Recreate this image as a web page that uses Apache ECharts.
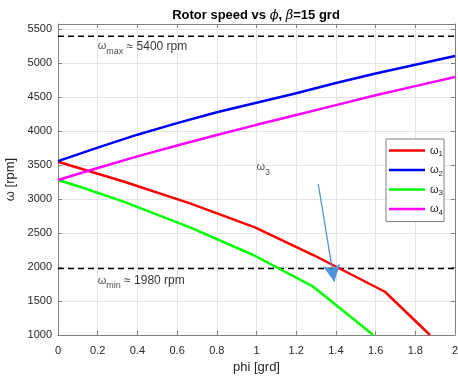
<!DOCTYPE html>
<html>
<head>
<meta charset="utf-8">
<script src="https://cdn.jsdelivr.net/npm/echarts@6/dist/echarts.min.js"></script>
<style>
html,body{margin:0;padding:0;background:#fff;}
#c{width:458px;height:379px;}
</style>
</head>
<body>
<div id="c"></div>
<script>
// ---- data ----
const phi1 = [0, 0.33, 0.665, 0.992, 1.286, 1.647, 1.874];
const w1   = [3552, 3260, 2939, 2586, 2178, 1637, 1000];

const phi2 = [0, 0.2, 0.4, 0.6, 0.8, 1.0, 1.2, 1.4, 1.6, 1.8, 2.0];
const w2   = [3560, 3760, 3950, 4120, 4280, 4420, 4560, 4710, 4850, 4980, 5110];

const phi3 = [0, 0.11, 0.33, 0.665, 0.984, 1.286, 1.588];
const w3   = [3283, 3184, 2965, 2586, 2178, 1711, 1000];

const phi4 = [0, 0.2, 0.4, 0.6, 0.8, 1.0, 1.2, 1.4, 1.6, 1.8, 2.0];
const w4   = [3283, 3460, 3630, 3790, 3945, 4095, 4240, 4385, 4530, 4665, 4800];

const limitPhi = [0, 2];
const wMax = [5400, 5400];
const wMin = [1980, 1980];

const xTicks = [0, 2, 0.2];          // min, max, interval
const yTicks = [1000, 5580, 500];    // min, max, interval

const seriesNames = ['ω1', 'ω2', 'ω3', 'ω4'];
const seriesColors = ['#ff0000', '#0000ff', '#00ff00', '#ff00ff'];

// annotations: [phi, w, subscript, rest]
const notes = [
  [0.2, 5250, 'max', ' ≈ 5400 rpm'],
  [0.2, 1800, 'min', ' ≈ 1980 rpm'],
  [1.0, 3470, '3', '']
];
const arrowFrom = [1.311, 3224];
const arrowTo   = [1.392, 1785];

// ---- chart ----
const zip = (xs, ys) => xs.map((x, i) => [x, ys[i]]);
const FONT = '"Liberation Sans", Arial, Helvetica, sans-serif';
const AX = '#808080';
const TXT = '#262626';

const chart = echarts.init(document.getElementById('c'), null, {renderer: 'canvas'});

const curveData = [zip(phi1, w1), zip(phi2, w2), zip(phi3, w3), zip(phi4, w4)];
const curves = curveData.map((d, i) => ({
  name: seriesNames[i],
  type: 'line',
  data: d,
  symbol: 'none',
  showSymbol: false,
  color: seriesColors[i],
  lineStyle: {color: seriesColors[i], width: 2.5},
  z: 3,
  silent: true
}));

const dashStyle = {color: '#000', width: 1.4, type: [6, 4]};

const option = {
  animation: false,
  backgroundColor: '#fff',
  textStyle: {fontFamily: FONT},
  title: {
    text: '{a|Rotor speed vs }{i|ϕ}{a|, }{i|β}{a|=15 grd}',
    left: 251, textAlign: 'center', top: 4,
    textStyle: {
      rich: {
        a: {fontFamily: FONT, fontSize: 13, fontWeight: 'bold', color: '#000'},
        i: {fontFamily: '"DejaVu Serif", serif', fontStyle: 'italic', fontSize: 13, fontWeight: 'normal', color: '#000'}
      }
    }
  },
  grid: {left: 58, right: 3, top: 24, bottom: 44, show: false, containLabel: false, outerBoundsMode: 'none'},
  xAxis: [{
    type: 'value', min: xTicks[0], max: xTicks[1], interval: xTicks[2],
    name: 'phi [grd]', nameLocation: 'middle', nameGap: 26,
    nameTextStyle: {fontSize: 13, color: TXT, fontFamily: FONT},
    axisLine: {show: true, onZero: false, lineStyle: {color: AX, width: 1}},
    axisTick: {show: true, inside: true, length: 4, lineStyle: {color: AX}},
    axisLabel: {fontSize: 11, color: TXT, margin: 10, fontFamily: FONT},
    splitLine: {show: true, lineStyle: {color: '#e4e4e4', width: 1}}
  }, {
    type: 'value', position: 'top', min: xTicks[0], max: xTicks[1], interval: xTicks[2],
    axisLine: {show: true, onZero: false, lineStyle: {color: AX, width: 1}},
    axisTick: {show: true, inside: true, length: 4, lineStyle: {color: AX}},
    axisLabel: {show: false}, splitLine: {show: false}
  }],
  yAxis: [{
    type: 'value', min: yTicks[0], max: yTicks[1], interval: yTicks[2],
    name: 'ω [rpm]', nameLocation: 'middle', nameGap: 34, nameRotate: 90,
    nameTextStyle: {fontSize: 13, color: TXT, fontFamily: FONT},
    axisLine: {show: true, onZero: false, lineStyle: {color: AX, width: 1}},
    axisTick: {show: true, inside: true, length: 4, lineStyle: {color: AX}},
    axisLabel: {fontSize: 11, color: TXT, margin: 6, fontFamily: FONT, showMaxLabel: false,
                formatter: v => String(v)},
    splitLine: {show: true, lineStyle: {color: '#e4e4e4', width: 1}}
  }, {
    type: 'value', position: 'right', min: yTicks[0], max: yTicks[1], interval: yTicks[2],
    axisLine: {show: true, onZero: false, lineStyle: {color: AX, width: 1}},
    axisTick: {show: true, inside: true, length: 4, lineStyle: {color: AX}},
    axisLabel: {show: false}, splitLine: {show: false}
  }],
  legend: {
    data: seriesNames,
    orient: 'vertical',
    left: 386, top: 139,
    icon: 'rect',
    itemWidth: 36, itemHeight: 2.6, itemGap: 6.5,
    padding: [6, 1, 5, 3],
    borderColor: AX, borderWidth: 1, backgroundColor: '#fff',
    selectedMode: false,
    formatter: n => '{w|ω}{s|' + n.slice(1) + '}',
    textStyle: {
      color: TXT,
      rich: {
        w: {fontSize: 11, color: TXT, fontFamily: FONT},
        s: {fontSize: 8, color: TXT, fontFamily: FONT, padding: [7, 0, 0, 0]}
      }
    }
  },
  series: curves.concat([
    {
      name: 'wmax', type: 'line', data: zip(limitPhi, wMax), symbol: 'none',
      lineStyle: dashStyle, z: 2, silent: true
    },
    {
      name: 'wmin', type: 'line', data: zip(limitPhi, wMin), symbol: 'none',
      lineStyle: dashStyle, z: 2, silent: true,
      markLine: {
        silent: true,
        symbol: ['none', 'arrow'],
        symbolSize: [13, 17],
        label: {show: false},
        lineStyle: {color: '#4f93dc', width: 1.3, type: 'solid'},
        data: [[{coord: arrowFrom}, {coord: arrowTo}]],
        z: 5
      }
    },
    {
      name: 'notes', type: 'scatter', silent: true, symbolSize: 0,
      data: notes.map(n => ({value: [n[0], n[1]], sub: n[2], rest: n[3]})),
      label: {
        show: true, position: 'right', distance: 0,
        formatter: p => '{w|ω}{s|' + p.data.sub + '}' + (p.data.rest ? '{t|' + p.data.rest + '}' : ''),
        rich: {
          w: {fontSize: 11, color: TXT, fontFamily: FONT},
          s: {fontSize: 9, color: TXT, fontFamily: FONT, padding: [10, 0, 0, 0]},
          t: {fontSize: 12, color: '#000', fontFamily: FONT}
        }
      },
      z: 6
    }
  ])
};

chart.setOption(option);
</script>
</body>
</html>
